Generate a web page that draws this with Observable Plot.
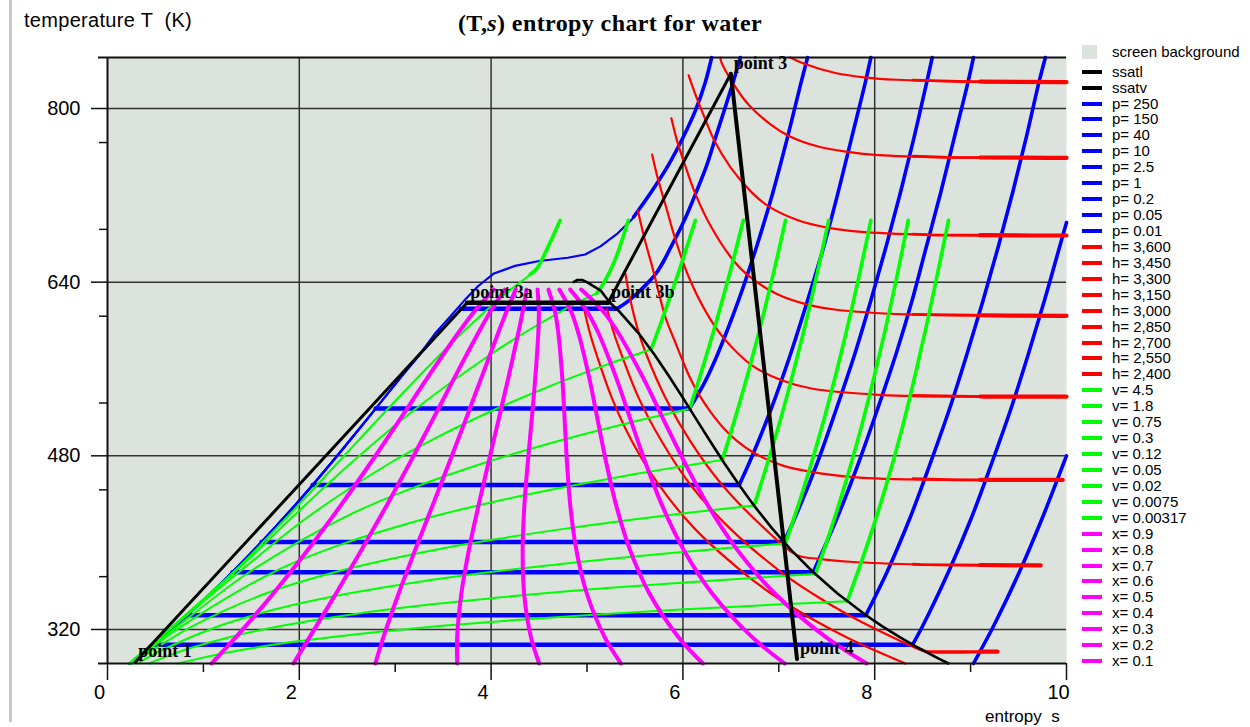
<!DOCTYPE html>
<html>
<head>
<meta charset="utf-8">
<script src="https://cdn.jsdelivr.net/npm/d3@7"></script>
<script src="https://cdn.jsdelivr.net/npm/@observablehq/plot@0.6"></script>
<style>
  body { margin: 0; background: #fff; }
  #wrap { position: relative; width: 1250px; height: 727px; overflow: hidden; background: #fff;
          font-family: "Liberation Sans", Arial, sans-serif; color: #000; }
  #wrap svg { position: absolute; left: 0; top: 0; }
  .abs { position: absolute; white-space: pre; }
</style>
</head>
<body>
<div id="wrap"></div>
<script>
// ---- axes ----------------------------------------------------------------
const sRange = [0, 10];            // entropy s (kJ/kg·K)
const tRange = [288.65, 847];      // temperature T (K)
const xTicks = [0, 2, 4, 6, 8, 10];
const xMinorTicks = [1, 3, 5, 7, 9];
const yTicks = [320, 480, 640, 800];
const yMinorTicks = [368.65, 448.65, 528.65, 608.65, 688.65, 768.65];

// ---- saturation table ----------------------------------------------------
const satT  = [288.65, 293.15, 303.15, 313.15, 323.15, 333.15, 353.15, 373.15, 393.15, 413.15,
               433.15, 453.15, 473.15, 493.15, 513.15, 533.15, 553.15, 573.15, 593.15, 613.15];
const satSf = [0.232, 0.2966, 0.4369, 0.5725, 0.7038, 0.8312, 1.0753, 1.3069, 1.5276, 1.7391,
               1.9427, 2.1396, 2.3309, 2.5178, 2.7015, 2.8838, 3.0668, 3.2534, 3.4480, 3.6594];
const satSg = [8.770, 8.6672, 8.4533, 8.2570, 8.0763, 7.9096, 7.6122, 7.3549, 7.1296, 6.9299,
               6.7502, 6.5865, 6.4323, 6.2861, 6.1437, 6.0019, 5.8571, 5.7045, 5.5362, 5.3357];
// top of the vapour line near the critical point
const domeTopS = [4.86, 4.90, 4.95, 4.99, 5.14, 5.24];
const domeTopT = [640, 642, 642, 640.5, 632.5, 621];
// liquid line as drawn (point 1 to point 3a)
const ssatlS = [0.29, 3.75];
const ssatlT = [290, 621];

// ---- cycle points --------------------------------------------------------
const pointLabels = ["point 1", "point 3a", "point 3b", "point 3", "point 4"];
const pointS = [0.29, 3.75, 5.22, 6.50, 7.19];
const pointT = [290, 621, 621, 832, 292.8];

// ---- isobars (bar) -------------------------------------------------------
const isobarLabels = ["p= 250", "p= 150", "p= 40", "p= 10", "p= 2.5", "p= 1", "p= 0.2", "p= 0.05", "p= 0.01"];
const isobarTsat = [null, 615.4, 523.5, 453.0, 400.6, 372.8, 333.2, 306.0, null];
const isobarSf   = [null, 3.685, 2.796, 2.139, 1.607, 1.303, 0.832, 0.476, null];
const isobarSg   = [null, 5.310, 6.070, 6.586, 7.053, 7.359, 7.908, 8.395, null];
const isobarVapour = [
  [[3.42,593.15],[3.57,608],[3.72,623],[3.86,636],[4.03,648],[4.25,655],[4.50,659.5],[4.80,662.5],[4.98,665.5],[5.14,673],[5.32,685],[5.47,698],[5.67,723],[5.85,748],[6.00,773],[6.13,798],[6.23,823],[6.30,847]],
  [[5.31,615.4],[5.44,623.15],[5.72,648],[5.88,673.15],[6.02,698],[6.14,723.15],[6.25,748],[6.34,773.15],[6.43,798],[6.52,823.15],[6.60,847]],
  [[6.07,523.5],[6.23,548.15],[6.36,573.15],[6.58,623.15],[6.77,673.15],[6.94,723.15],[7.09,773.15],[7.23,823.15],[7.30,847]],
  [[6.586,453.0],[6.69,473.15],[6.92,523.15],[7.12,573.15],[7.30,623.15],[7.47,673.15],[7.62,723.15],[7.76,773.15],[7.90,823.15],[7.96,847]],
  [[7.053,400.6],[7.17,423.15],[7.40,473.15],[7.60,523.15],[7.79,573.15],[7.96,623.15],[8.12,673.15],[8.27,723.15],[8.41,773.15],[8.54,823.15],[8.60,847]],
  [[7.359,372.8],[7.61,423.15],[7.83,473.15],[8.03,523.15],[8.22,573.15],[8.39,623.15],[8.54,673.15],[8.69,723.15],[8.83,773.15],[8.97,823.15],[9.03,847]],
  [[7.908,333.2],[8.13,373.15],[8.37,423.15],[8.58,473.15],[8.78,523.15],[8.96,573.15],[9.13,623.15],[9.29,673.15],[9.44,723.15],[9.58,773.15],[9.71,823.15],[9.78,847]],
  [[8.395,306.0],[8.50,323.15],[8.77,373.15],[9.01,423.15],[9.22,473.15],[9.42,523.15],[9.60,573.15],[9.77,623.15],[9.93,673.15],[10.0,695]],
  [[9.03,288.65],[9.10,300],[9.24,323.15],[9.51,373.15],[9.75,423.15],[9.97,473.15],[10.0,480]]
];

// ---- isenthalps (kJ/kg) --------------------------------------------------
const isenthalpLabels = ["h= 3,600", "h= 3,450", "h= 3,300", "h= 3,150", "h= 3,000", "h= 2,850", "h= 2,700", "h= 2,550", "h= 2,400"];
const isenthalpPts = [
  [[7.12,847],[7.28,840.7],[7.59,832.7],[7.91,828.5],[8.23,826.5],[8.97,824.8],[10,824.4]],
  [[6.39,847],[6.40,843],[6.52,823.7],[6.69,803],[6.92,785],[7.10,775],[7.41,765],[7.72,760],[8.04,757],[8.78,755],[9.84,754.6],[10,754.5]],
  [[6.06,830.5],[6.13,813],[6.22,793],[6.33,770],[6.50,745.4],[6.72,722.5],[6.89,710],[7.20,697],[7.52,690],[7.83,686.5],[8.57,683.6],[9.64,683],[10,683]],
  [[5.88,791],[5.94,770],[6.02,748.4],[6.13,721.4],[6.29,691.7],[6.50,663],[6.67,647],[6.98,629],[7.29,619.5],[7.60,614.6],[8.34,610.3],[9.40,609.2],[10,609]],
  [[5.68,757.5],[5.74,735],[5.82,710.7],[5.92,680],[6.06,645],[6.26,609.6],[6.43,588],[6.72,563.4],[7.03,549.6],[7.34,542],[8.08,536],[9.14,534.6],[10,534.5]],
  [[5.53,706],[5.60,680],[5.69,651],[5.82,607],[5.90,589],[6.01,565],[6.07,552.6],[6.16,537.5],[6.28,521.5],[6.44,504],[6.56,494],[6.74,482.8],[7.05,470.7],[7.78,460.3],[8.84,457.9],[9.96,457.8]],
  [[5.40,648],[5.45,624.5],[5.54,593.2],[5.62,573.15],[5.82,533.15],[6.08,493.15],[6.41,453.15],[6.85,413.15],[7.18,388.9],[7.42,385],[7.74,382.4],[8.48,379.8],[9.73,379]],
  [[5.21,615.3],[5.28,593.15],[5.36,573.15],[5.54,533.15],[5.78,493.15],[6.08,453.15],[6.49,413.15],[7.02,373.15],[7.35,353.15],[7.73,333.15],[8.18,313.15],[8.43,303.15],[8.54,299.6],[9.28,299.6]],
  [[4.97,615.3],[5.03,593.15],[5.10,573.15],[5.26,533.15],[5.47,493.15],[5.75,453.15],[6.12,413.15],[6.62,373.15],[6.92,353.15],[7.28,333.15],[7.70,313.15],[7.94,303.15],[8.20,293.15],[8.32,288.65]]
];

// ---- isochores (m³/kg) ---------------------------------------------------
const isochoreLabels = ["v= 4.5", "v= 1.8", "v= 0.75", "v= 0.3", "v= 0.12", "v= 0.05", "v= 0.02", "v= 0.0075", "v= 0.00317"];
const isochoreWet = [
  [[0.74,288.65],[0.949,293.15],[1.217,298.15],[1.534,303.15],[1.905,308.15],[2.344,313.15],[2.858,318.15],[3.462,323.15],[4.165,328.15],[4.984,333.15],[5.931,338.15],[7.024,343.15],[7.714,346.0]],
  [[0.434,288.65],[0.557,293.15],[0.875,303.15],[1.281,313.15],[1.807,323.15],[2.493,333.15],[3.383,343.15],[4.529,353.15],[5.214,358.15],[5.986,363.15],[6.849,368.15],[7.381,371.0]],
  [[0.31,288.65],[0.620,303.15],[1.163,323.15],[1.523,333.15],[1.966,343.15],[2.513,353.15],[3.189,363.15],[4.016,373.15],[5.024,383.15],[5.603,388.15],[6.237,393.15],[6.622,396.15],[7.068,399.2]],
  [[0.26,288.65],[0.510,303.15],[0.888,323.15],[1.651,353.15],[2.389,373.15],[3.408,393.15],[4.050,403.15],[4.794,413.15],[5.654,423.15],[6.130,428.15],[6.742,434.2]],
  [[0.24,288.65],[0.777,323.15],[1.737,373.15],[2.431,398.15],[3.358,423.15],[3.811,433.15],[4.317,443.15],[4.881,453.15],[5.502,463.15],[6.192,473.15],[6.41,476.1]],
  [[0.23,288.65],[0.734,323.15],[1.484,373.15],[2.465,423.15],[3.118,448.15],[3.918,473.15],[4.682,493.15],[5.109,503.15],[5.570,513.15],[6.07,523.3]],
  [[0.227,288.65],[1.375,373.15],[2.083,423.15],[2.943,473.15],[3.461,498.15],[4.051,523.15],[4.446,538.15],[4.873,553.15],[5.179,563.15],[5.502,573.15],[5.668,578.0]],
  [[0.225,288.65],[1.330,373.15],[1.924,423.15],[2.537,473.15],[3.212,523.15],[3.991,573.15],[4.344,593.15],[4.732,613.15],[4.945,623.15],[5.104,629.9]],
  [[0.225,288.65],[1.315,373.15],[1.868,423.15],[2.396,473.15],[2.922,523.15],[3.467,573.15],[3.697,593.15],[3.940,613.15],[4.068,623.15],[4.202,633.15],[4.353,643.15],[4.407,647.1]]
];
const isochoreVapour = [
  [[7.714,346.0],[7.93,400],[8.11,450],[8.27,500],[8.41,550],[8.54,600],[8.66,650],[8.77,697]],
  [[7.381,371.0],[7.497,400],[7.678,450],[7.84,500],[7.986,550],[8.12,600],[8.243,650],[8.35,697]],
  [[7.068,399.2],[7.26,450],[7.428,500],[7.58,550],[7.719,600],[7.848,650],[7.96,697]],
  [[6.742,434.2],[6.80,450],[6.974,500],[7.13,550],[7.274,600],[7.405,650],[7.52,697]],
  [[6.41,476.1],[6.495,500],[6.66,550],[6.81,600],[6.949,650],[7.07,697]],
  [[6.07,523.3],[6.167,550],[6.337,600],[6.494,650],[6.63,697]],
  [[5.668,578.0],[5.76,600],[5.958,650],[6.13,697]],
  [[5.104,629.9],[5.18,640],[5.29,660],[5.37,680],[5.43,697]],
  [[4.407,647.1],[4.48,653],[4.58,670],[4.72,697]]
];

// ---- lines of constant quality -------------------------------------------
const qualityLabels = ["x= 0.9", "x= 0.8", "x= 0.7", "x= 0.6", "x= 0.5", "x= 0.4", "x= 0.3", "x= 0.2", "x= 0.1"];
const qualityT = [288.65, 313.15, 353.15, 393.15, 433.15, 473.15, 513.15, 553.15, 593.15, 613.15, 633.15];
const qualityS = [
  [7.916, 7.488, 6.958, 6.569, 6.269, 6.022, 5.799, 5.578, 5.327, 5.168, 4.939],
  [7.062, 6.720, 6.305, 6.009, 5.789, 5.612, 5.455, 5.299, 5.119, 5.000, 4.825],
  [6.208, 5.952, 5.651, 5.449, 5.308, 5.202, 5.111, 5.020, 4.910, 4.833, 4.711],
  [5.354, 5.183, 4.998, 4.889, 4.827, 4.792, 4.767, 4.741, 4.701, 4.665, 4.598],
  [4.501, 4.415, 4.344, 4.329, 4.346, 4.382, 4.423, 4.462, 4.492, 4.498, 4.484],
  [3.647, 3.646, 3.690, 3.768, 3.866, 3.971, 4.078, 4.183, 4.283, 4.330, 4.370],
  [2.793, 2.878, 3.036, 3.208, 3.385, 3.561, 3.734, 3.904, 4.074, 4.162, 4.256],
  [1.939, 2.109, 2.383, 2.648, 2.904, 3.151, 3.390, 3.625, 3.866, 3.995, 4.142],
  [1.085, 1.341, 1.729, 2.088, 2.423, 2.741, 3.046, 3.346, 3.657, 3.827, 4.029]
];

// ---- styling ---------------------------------------------------------------
const screenBackground = "#dce3dc";
const BLUE = "#0000ff", RED = "#ff0000", GREEN = "#00ff00", MAGENTA = "#ff00ff", BLACK = "#000000";
const GRID = "#333333";

// ---- helpers ---------------------------------------------------------------
const rows = (list, name) => list.map(([s, T]) => ({s, T, name}));
const rowsOf = (lists, names) => lists.flatMap((l, i) => rows(l, names[i]));

// part of a polyline where coordinate k (0 = s, 1 = T) is at least `from`
function portion(points, k, from) {
  const out = [];
  points.forEach((p, i) => {
    if (p[k] < from) return;
    const q = points[i - 1];
    if (q && q[k] < from) {
      const t = (from - q[k]) / (p[k] - q[k]);
      out.push([q[0] + t * (p[0] - q[0]), q[1] + t * (p[1] - q[1])]);
    }
    out.push(p);
  });
  return out;
}

// isobar = compressed liquid along the liquid line + plateau + vapour branch
const isobarPaths = isobarLabels.map((_, i) => {
  const start = isobarTsat[i] ?? isobarVapour[i][0][1];
  const liquid = satT.map((T, j) => [satSf[j], T]).filter(([, T]) => T < start - 0.5);
  const plateau = isobarTsat[i] == null ? [] : [[isobarSf[i], isobarTsat[i]], [isobarSg[i], isobarTsat[i]]];
  return liquid.concat(plateau, isobarVapour[i]);
});
const plateauRows = isobarLabels.flatMap((name, i) =>
  isobarTsat[i] == null ? [] : rows([[isobarSf[i], isobarTsat[i]], [isobarSg[i], isobarTsat[i]]], name));
const vapourBranch = isobarVapour.map((l, i) => (i === 0 ? portion(l, 1, 700) : l));

const ssatvPath = domeTopS.map((s, i) => [s, domeTopT[i]])
  .concat(satT.map((T, j) => [satSg[j], T]).reverse());
const ssatlPath = ssatlS.map((s, i) => [s, ssatlT[i]]);
const cyclePath = pointS.map((s, i) => [s, pointT[i]]);
const qualityLists = qualityS.map(list => list.map((s, j) => [s, qualityT[j]]));
const pointRows = pointLabels.map((label, i) => ({label, s: pointS[i], T: pointT[i]}));

const serif = "'Liberation Serif', 'Times New Roman', serif";

const chart = Plot.plot({
  width: 1250,
  height: 727,
  marginTop: 57,
  marginBottom: 64,
  marginLeft: 107,
  marginRight: 184,
  x: {domain: sRange, axis: null},
  y: {domain: tRange, axis: null},
  style: {background: "transparent", fontFamily: "'Liberation Sans', Arial, sans-serif", color: "#000"},
  marks: [
    Plot.frame({fill: screenBackground, stroke: null}),
    Plot.gridX(xTicks.slice(1, -1), {stroke: GRID, strokeOpacity: 1, strokeWidth: 1.5}),
    Plot.gridY(yTicks, {stroke: GRID, strokeOpacity: 1, strokeWidth: 1.5}),

    // isobars
    Plot.line(rowsOf(isobarPaths, isobarLabels), {x: "s", y: "T", z: "name", stroke: BLUE, strokeWidth: 2.2}),
    Plot.line(rowsOf(vapourBranch, isobarLabels), {x: "s", y: "T", z: "name", stroke: BLUE, strokeWidth: 3.6, curve: "catmull-rom"}),
    Plot.line(plateauRows, {x: "s", y: "T", z: "name", stroke: BLUE, strokeWidth: 4.5}),

    // isenthalps, heavier towards low pressure
    Plot.line(rowsOf(isenthalpPts, isenthalpLabels), {x: "s", y: "T", z: "name", stroke: RED, strokeWidth: 2.2, curve: "catmull-rom"}),
    Plot.line(rowsOf(isenthalpPts.map(l => portion(l, 0, 8.4)), isenthalpLabels), {x: "s", y: "T", z: "name", stroke: RED, strokeWidth: 2.8}),
    Plot.line(rowsOf(isenthalpPts.map(l => portion(l, 0, 9.1)), isenthalpLabels), {x: "s", y: "T", z: "name", stroke: RED, strokeWidth: 4.2}),

    // isochores
    Plot.line(rowsOf(isochoreWet, isochoreLabels), {x: "s", y: "T", z: "name", stroke: GREEN, strokeWidth: 2, curve: "catmull-rom"}),
    Plot.line(rowsOf(isochoreVapour, isochoreLabels), {x: "s", y: "T", z: "name", stroke: GREEN, strokeWidth: 3.6, curve: "catmull-rom"}),

    // quality
    Plot.line(rowsOf(qualityLists, qualityLabels), {x: "s", y: "T", z: "name", stroke: MAGENTA, strokeWidth: 4, curve: "catmull-rom"}),

    // saturation lines and cycle
    Plot.line(rows(ssatlPath, "ssatl"), {x: "s", y: "T", stroke: BLACK, strokeWidth: 3}),
    Plot.line(rows(ssatvPath, "ssatv"), {x: "s", y: "T", stroke: BLACK, strokeWidth: 2.6}),
    Plot.line(rows(cyclePath.slice(1, 3), "3a-3b"), {x: "s", y: "T", stroke: BLACK, strokeWidth: 4.5}),
    Plot.line(rows(cyclePath.slice(2, 4), "3b-3"), {x: "s", y: "T", stroke: BLACK, strokeWidth: 3}),
    Plot.line(rows(cyclePath.slice(3, 5), "3-4"), {x: "s", y: "T", stroke: BLACK, strokeWidth: 4}),

    // frame and ticks
    Plot.ruleX([sRange[0]], {stroke: "#111", strokeWidth: 2}),
    Plot.ruleY([tRange[0], tRange[1]], {stroke: "#111", strokeWidth: 2, insetLeft: -9}),
    Plot.axisX({ticks: xTicks, anchor: "bottom", tickSize: 17, tickFormat: () => "", stroke: "#111", strokeWidth: 1.5, label: null}),
    Plot.axisX({ticks: xMinorTicks, anchor: "bottom", tickSize: 9, tickFormat: () => "", stroke: "#111", strokeWidth: 1.5, label: null}),
    Plot.axisX({ticks: xTicks, anchor: "bottom", tickSize: 0, tickPadding: 21, dx: -8, fontSize: 20, tickFormat: d => String(d), label: null}),
    Plot.axisY({ticks: yTicks, anchor: "left", tickSize: 16, tickFormat: () => "", stroke: "#111", strokeWidth: 1.5, label: null}),
    Plot.axisY({ticks: yMinorTicks, anchor: "left", tickSize: 8, tickFormat: () => "", stroke: "#111", strokeWidth: 1.5, label: null}),
    Plot.axisY({ticks: yTicks, anchor: "left", tickSize: 0, tickPadding: 27, fontSize: 20, tickFormat: d => String(d), label: null}),

    // cycle point labels
    Plot.text(pointRows, {x: "s", y: "T", text: "label", textAnchor: "start", lineAnchor: "bottom",
      dx: 3, dy: -5, fontFamily: serif, fontWeight: "bold", fontSize: 18, fill: BLACK})
  ]
});

const wrap = document.getElementById("wrap");
wrap.appendChild(chart);

function addText(text, css, html) {
  const d = document.createElement("div");
  d.className = "abs";
  d.style.cssText = css;
  if (html) d.innerHTML = text; else d.textContent = text;
  wrap.appendChild(d);
  return d;
}

// window edge
addText("", "left:9px;top:0;width:3px;height:722px;background:#c8c8c8;");
// titles
addText("(T,<i>s</i>) entropy chart for water",
  `left:0;width:1220px;top:10px;text-align:center;font:bold 24px ${serif};letter-spacing:0.4px;`, true);
addText("temperature T  (K)", "left:24px;top:9px;font-size:20px;letter-spacing:0.3px;");
addText("entropy  s", "left:985px;top:707px;font-size:17px;");

// legend
const legendItems = [
  ...["ssatl", "ssatv"].map(t => [t, BLACK]),
  ...isobarLabels.map(t => [t, BLUE]),
  ...isenthalpLabels.map(t => [t, RED]),
  ...isochoreLabels.map(t => [t, GREEN]),
  ...qualityLabels.map(t => [t, MAGENTA])
];
addText("", `left:1082px;top:45px;width:15px;height:14px;background:${screenBackground};`);
addText("screen background", "left:1112px;top:43px;font-size:15px;line-height:18px;");
legendItems.forEach(([label, color], k) => {
  const cy = 71.7 + 15.93 * k;
  addText("", `left:1082px;top:${cy - 2}px;width:20px;height:4px;background:${color};`);
  addText(label, `left:1112px;top:${cy - 9}px;font-size:15px;line-height:18px;`);
});
</script>
</body>
</html>
